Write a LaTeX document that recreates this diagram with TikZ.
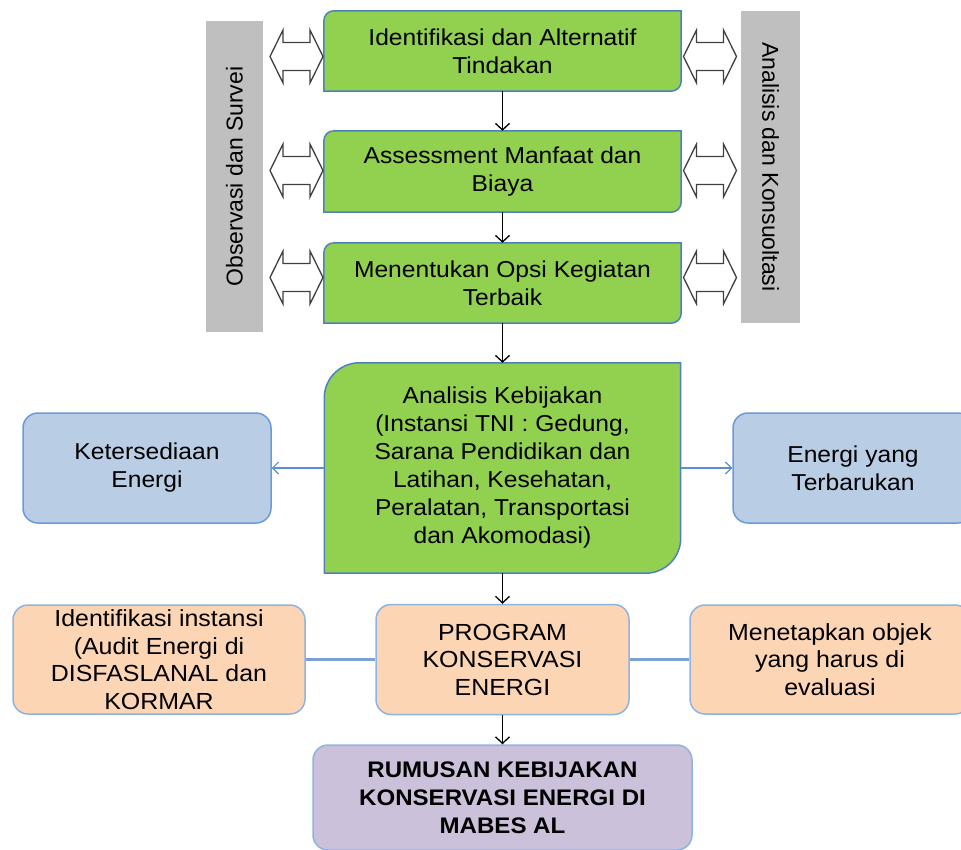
\documentclass[tikz,border=0pt]{standalone}
\usepackage{fontspec}
\setmainfont{Liberation Sans}[FakeStretch=1.07]
\newfontfamily\barfont{Liberation Sans}
\usetikzlibrary{arrows.meta,backgrounds}
\definecolor{gfill}{HTML}{92D050}
\definecolor{gline}{HTML}{4F81BD}
\definecolor{bfill}{HTML}{B9CDE5}
\definecolor{bline}{HTML}{6A9BD8}
\definecolor{ofill}{HTML}{FCD5B5}
\definecolor{oline}{HTML}{8DB3E2}
\definecolor{pfill}{HTML}{CCC1DA}
\definecolor{grayfill}{HTML}{BFBFBF}
\definecolor{conn}{HTML}{7BA0D4}
\definecolor{sidearrow}{HTML}{5B8ED6}
\newcommand\diagshape[2]{%
  \filldraw[greenshape] (#1.south west) -- ([yshift=-#2]#1.north west)
    arc[start angle=180,end angle=90,radius=#2] -- (#1.north east)
    -- ([yshift=#2]#1.south east) arc[start angle=0,end angle=-90,radius=#2] -- cycle;}
\tikzset{
  txt/.style={font=\fontsize{23}{28}\selectfont, align=center, inner sep=0pt},
  txtb/.style={font=\fontsize{23.3}{27.5}\selectfont, align=center, inner sep=0pt},
  greennode/.style={txt, minimum width=357pt},
  greenshape/.style={fill=gfill, draw=gline, line width=1.5pt},
  bluebox/.style={txt, rectangle, rounded corners=15pt, fill=bfill, draw=bline, line width=1.5pt},
  orangebox/.style={txtb, rectangle, rounded corners=15pt, fill=ofill, draw=oline, line width=1.5pt},
  purplebox/.style={txtb, rectangle, rounded corners=15pt, fill=pfill, draw=oline, line width=1.5pt},
  graybar/.style={fill=grayfill, inner sep=0pt, font=\barfont\fontsize{23}{28}\selectfont},
  varrow/.style={draw=black, line width=1.3pt, -{Straight Barb[length=6.5pt,width=14pt]}},
  barrow/.style={draw=sidearrow, line width=1.2pt, -{Straight Barb[length=6pt,width=12pt]}},
  hline/.style={draw=conn, line width=3pt},
  dblstyle/.style={draw=black!75, fill=white, line width=1.3pt, line join=miter},
  dblarrow/.pic={\draw[dblstyle] (-26.5,0) -- (-13.5,-26.5) -- (-13.5,-14) -- (13.5,-14)
     -- (13.5,-26.5) -- (26.5,0) -- (13.5,26.5) -- (13.5,14) -- (-13.5,14) -- (-13.5,26.5) -- cycle;}
}
\begin{document}
\begin{tikzpicture}[x=1pt,y=-1pt]
\useasboundingbox (0,0) rectangle (961,849);
% gray side bars
\node[graybar, rotate=90, minimum width=311pt, minimum height=57pt] (obs) at (234.5,176.5) {Observasi dan Survei};
\node[graybar, rotate=-90, minimum width=312pt, minimum height=59pt] (ana) at (770.5,167) {Analisis dan Konsuoltasi};
% green boxes
\node[greennode, minimum height=80pt] (b1) at (502.5,51) {Identifikasi dan Alternatif\\Tindakan};
\node[greennode, minimum height=81pt] (b2) at (502.5,171.5) {Assessment Manfaat dan\\Biaya};
\node[greennode, minimum height=80pt] (b3) at (502.5,283) {Menentukan Opsi Kegiatan\\Terbaik};
\node[txt, minimum width=356pt, minimum height=210pt] (big) at (502.5,468)
  {Analisis Kebijakan\\(Instansi TNI : Gedung,\\Sarana Pendidikan dan\\Latihan, Kesehatan,\\Peralatan, Transportasi\\dan Akomodasi)};
\begin{scope}[on background layer]
  \diagshape{b1}{10pt}
  \diagshape{b2}{10pt}
  \diagshape{b3}{10pt}
  \diagshape{big}{35pt}
\end{scope}
% double arrows
\pic (la1) at (296.5,56.5) {dblarrow};
\pic (la2) at (296.5,170.5) {dblarrow};
\pic (la3) at (296.5,277.5) {dblarrow};
\pic (ra1) at (710,56.5) {dblarrow};
\pic (ra2) at (710,170.5) {dblarrow};
\pic (ra3) at (710,277.5) {dblarrow};
% blue boxes
\node[bluebox, minimum width=248pt, minimum height=110pt] (bl) at (147,468) {Ketersediaan\\Energi};
\node[bluebox, minimum width=240pt, minimum height=110pt] (br) at (853,468) {Energi yang\\Terbarukan};
% orange boxes
\node[orangebox, minimum width=292pt, minimum height=109pt] (ol) at (159,659.5) {Identifikasi instansi\\(Audit Energi di\\DISFASLANAL dan\\KORMAR};
\node[orangebox, minimum width=253pt, minimum height=110pt] (oc) at (502.5,659.5) {PROGRAM\\KONSERVASI\\ENERGI};
\node[orangebox, minimum width=280pt, minimum height=109pt] (or) at (830,659.5) {Menetapkan objek\\yang harus di\\evaluasi};
% purple box
\node[purplebox, minimum width=379pt, minimum height=105pt, font=\bfseries\fontsize{22.5}{28}\selectfont] (pu) at (502.5,797.5) {RUMUSAN KEBIJAKAN\\KONSERVASI ENERGI DI\\MABES AL};
% connectors
\draw[varrow] (b1.south) -- (b2.north);
\draw[varrow] (b2.south) -- (b3.north);
\draw[varrow] (b3.south) -- (big.north);
\draw[varrow] (big.south) -- (oc.north);
\draw[varrow] (oc.south) -- (pu.north);
\draw[barrow] (big.west) -- (bl.east);
\draw[barrow] (big.east) -- (br.west);
\draw[hline] (ol.east) -- (oc.west);
\draw[hline] (oc.east) -- (or.west);
\end{tikzpicture}
\end{document}
